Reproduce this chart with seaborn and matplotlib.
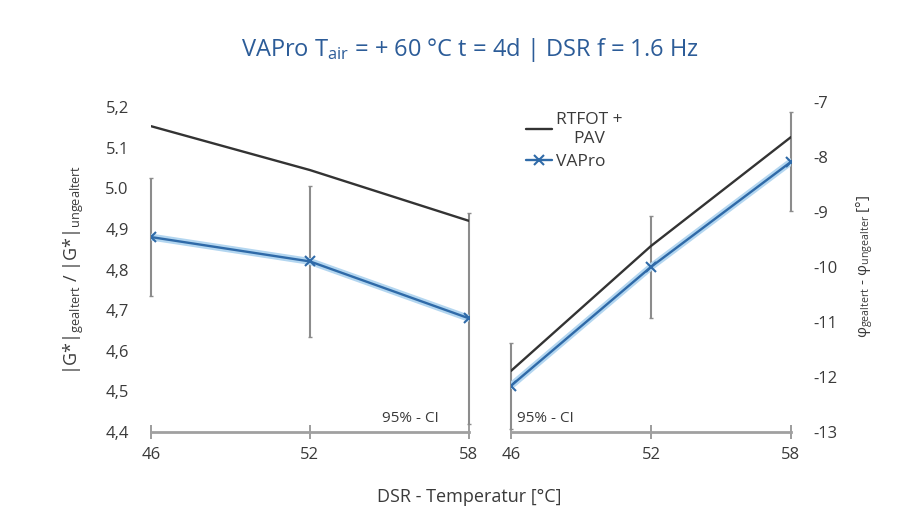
import numpy as np
import pandas as pd
import matplotlib
matplotlib.use('Agg')
import matplotlib.pyplot as plt
import seaborn as sns

# data
temps = [46, 52, 58]
g_rtfot = [5.153, 5.045, 4.92]
g_vapro = [4.88, 4.82, 4.68]
g_vapro_ci = [0.145, 0.185, 0.26]
phi_rtfot = [-11.89, -9.62, -7.64]
phi_vapro = [-12.16, -10.0, -8.09]
phi_vapro_ci = [0.78, 0.93, 0.9]

left_ticks = [4.4, 4.5, 4.6, 4.7, 4.8, 4.9, 5.0, 5.1, 5.2]
left_labels = ['4,4', '4,5', '4,6', '4,7', '4,8', '4,9', '5.0', '5.1', '5,2']
right_ticks = [-13, -12, -11, -10, -9, -8, -7]

sns.set_theme(style="white")
plt.rcParams['font.family'] = ['Open Sans', 'DejaVu Sans']
plt.rcParams['mathtext.fontset'] = 'custom'
plt.rcParams['mathtext.rm'] = 'Open Sans'
plt.rcParams['mathtext.it'] = 'Open Sans:italic'
plt.rcParams['mathtext.default'] = 'rm'
plt.rcParams['axes.unicode_minus'] = False

dark = '#333333'
blue = '#2f6aa8'
glow = '#b3d6f0'
grey = '#8c8c8c'
txt = '#3a3a3a'

df_g = pd.DataFrame({'T': temps * 2, 'val': g_rtfot + g_vapro,
                     'series': ['RTFOT +\nPAV'] * 3 + ['VAPro'] * 3})
df_p = pd.DataFrame({'T': temps * 2, 'val': phi_rtfot + phi_vapro,
                     'series': ['RTFOT +\nPAV'] * 3 + ['VAPro'] * 3})

fig = plt.figure(figsize=(9.21, 5.24), dpi=100)
ax1 = fig.add_axes([0.164, 0.1756, 0.345, 0.620])
ax2 = fig.add_axes([0.5548, 0.1756, 0.304, 0.630])


def draw(ax, df, vals, ci):
    ax.errorbar(temps, vals, yerr=ci, fmt='none', ecolor=grey, elinewidth=1.5,
                capsize=1.5, capthick=1.0, clip_on=False, zorder=1)
    sub = df[df.series == 'VAPro']
    sns.lineplot(data=sub, x='T', y='val', ax=ax, color=glow, linewidth=5,
                 legend=False, zorder=2)
    sns.lineplot(data=df, x='T', y='val', hue='series', ax=ax,
                 palette={'RTFOT +\nPAV': dark, 'VAPro': blue},
                 style='series', markers={'RTFOT +\nPAV': '', 'VAPro': 'x'},
                 dashes=False, markersize=7, markeredgewidth=1.5,
                 markeredgecolor=blue, linewidth=1.7, zorder=3,
                 legend=(ax is ax2))
    ax.set_xlim(46, 58)
    ax.set_xticks(temps)
    ax.set_xlabel('')
    ax.set_ylabel('')
    for s in ['top', 'left', 'right']:
        ax.spines[s].set_visible(False)
    ax.spines['bottom'].set_color('#a0a0a0')
    ax.spines['bottom'].set_linewidth(2)
    ax.tick_params(axis='x', direction='inout', length=10, width=1.2,
                   color=grey, labelsize=12, labelcolor=txt, pad=6, bottom=True)
    ax.set_facecolor('white')


draw(ax1, df_g, g_vapro, g_vapro_ci)
ax1.set_ylim(4.4, 5.2)
ax1.set_yticks(left_ticks)
ax1.set_yticklabels(left_labels)
ax1.tick_params(axis='y', length=0, labelsize=12, labelcolor=txt, pad=16)
ax1.set_ylabel(r'|G*|$_{\mathrm{gealtert}}$ / |G*|$_{\mathrm{ungealtert}}$',
               fontsize=13, color=txt, labelpad=14)
ax1.text(55.8, 4.425, '95% - CI', fontsize=11, color=txt, ha='center')

draw(ax2, df_p, phi_vapro, phi_vapro_ci)
ax2.set_ylim(-13, -7)
ax2.set_yticks(right_ticks)
ax2.yaxis.tick_right()
ax2.yaxis.set_label_position('right')
ax2.tick_params(axis='y', length=0, labelsize=12, labelcolor=txt, pad=16,
                left=False, labelleft=False, right=True, labelright=True)
ax2.set_ylabel(r'$φ_{\mathrm{gealtert}}$ - $φ_{\mathrm{ungealter}}$ [°]',
               fontsize=11, color=txt, labelpad=12)
ax2.text(46.25, -12.82, '95% - CI', fontsize=11, color=txt, ha='left')

leg = ax2.legend(loc='upper left', bbox_to_anchor=(0.03, 0.99), frameon=False,
                 fontsize=12.5, handlelength=1.5, handletextpad=0.2,
                 labelspacing=0.4, borderaxespad=0)
for t in leg.get_texts():
    t.set_color(txt)
    t.set_multialignment('center')

fig.text(0.51, 0.905, r'VAPro T$_{\mathrm{air}}$ = + 60 °C t = 4d | DSR f = 1.6 Hz',
         ha='center', va='center', fontsize=17, color='#2c5c98')
fig.text(0.51, 0.052, 'DSR - Temperatur [°C]', ha='center', va='center',
         fontsize=13, color=txt)

fig.savefig('out.png', dpi=100, facecolor='white')
